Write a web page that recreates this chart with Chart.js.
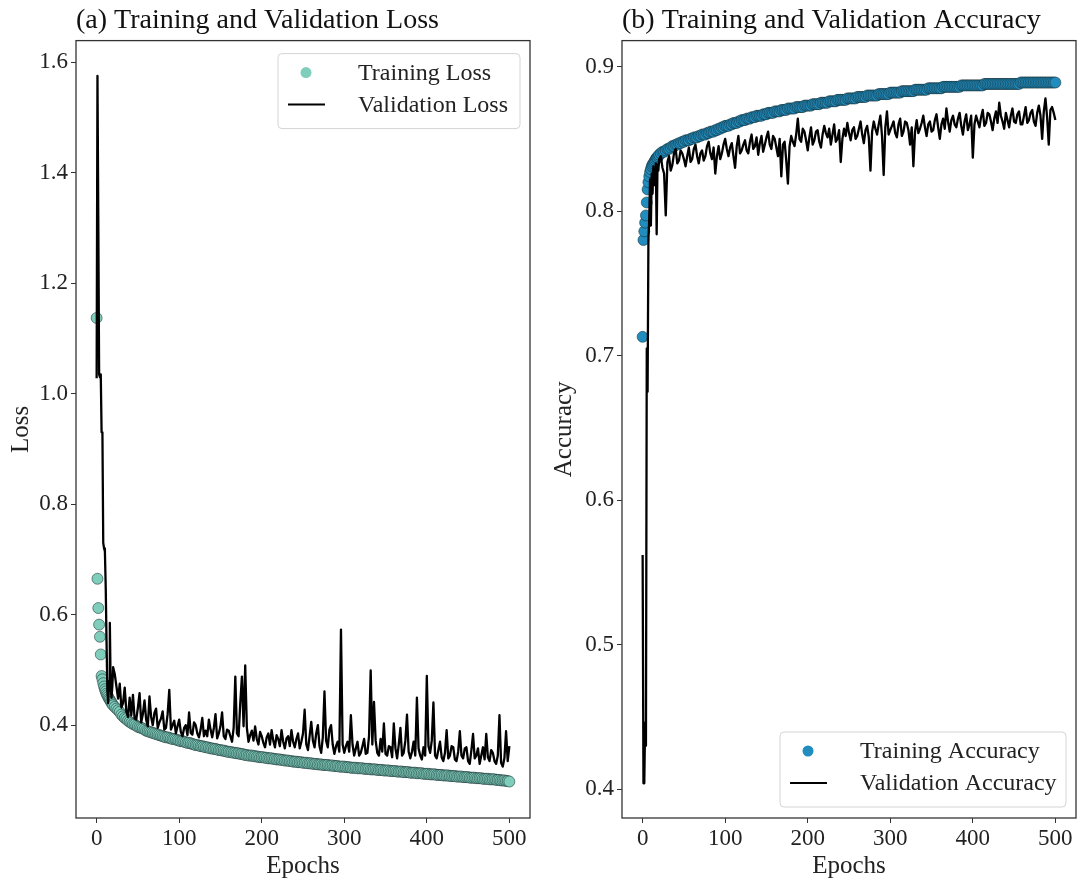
<!DOCTYPE html>
<html>
<head>
<meta charset="utf-8">
<script src="https://cdn.jsdelivr.net/npm/chart.js@4.4.0/dist/chart.umd.min.js"></script>
<style>
  html, body { margin:0; padding:0; background:#fff; }
  #wrap { position:relative; width:1086px; height:882px; }
  .pannello { position:absolute; top:0; width:543px; height:882px; }
</style>
</head>
<body>
<div id="wrap">
  <div class="pannello" style="left:0"><canvas id="grafico_loss" width="543" height="882"></canvas></div>
  <div class="pannello" style="left:543px"><canvas id="grafico_acc" width="543" height="882"></canvas></div>
</div>
<script>
// epoche (ogni epoca fino a 20, poi ogni 2)
var epoche = [0,1,2,3,4,5,6,7,8,9,10,11,12,13,14,15,16,17,18,19,20,
  22,24,26,28,30,32,34,36,38,40,
  42,44,46,48,50,52,54,56,58,60,
  62,64,66,68,70,72,74,76,78,80,
  82,84,86,88,90,92,94,96,98,100,
  102,104,106,108,110,112,114,116,118,120,
  122,124,126,128,130,132,134,136,138,140,
  142,144,146,148,150,152,154,156,158,160,
  162,164,166,168,170,172,174,176,178,180,
  182,184,186,188,190,192,194,196,198,200,
  202,204,206,208,210,212,214,216,218,220,
  222,224,226,228,230,232,234,236,238,240,
  242,244,246,248,250,252,254,256,258,260,
  262,264,266,268,270,272,274,276,278,280,
  282,284,286,288,290,292,294,296,298,300,
  302,304,306,308,310,312,314,316,318,320,
  322,324,326,328,330,332,334,336,338,340,
  342,344,346,348,350,352,354,356,358,360,
  362,364,366,368,370,372,374,376,378,380,
  382,384,386,388,390,392,394,396,398,400,
  402,404,406,408,410,412,414,416,418,420,
  422,424,426,428,430,432,434,436,438,440,
  442,444,446,448,450,452,454,456,458,460,
  462,464,466,468,470,472,474,476,478,480,
  482,484,486,488,490,492,494,496,498,500];

var training_loss = [1.137,0.665,0.612,0.582,0.560,0.528,0.489,0.483,0.476,0.470,0.465,0.461,0.457,0.454,0.451,0.448,0.446,0.443,0.441,0.438,0.436,
  0.433,0.430,0.427,0.424,0.419,0.416,0.413,0.411,0.408,0.406,
  0.404,0.402,0.401,0.399,0.397,0.396,0.395,0.394,0.392,0.390,
  0.389,0.388,0.387,0.386,0.385,0.384,0.383,0.382,0.381,0.380,
  0.379,0.378,0.378,0.377,0.376,0.375,0.375,0.374,0.373,0.372,
  0.371,0.371,0.370,0.369,0.368,0.368,0.367,0.366,0.365,0.364,
  0.364,0.363,0.362,0.362,0.361,0.360,0.360,0.359,0.358,0.358,
  0.357,0.357,0.356,0.355,0.355,0.354,0.354,0.353,0.352,0.352,
  0.351,0.351,0.350,0.350,0.349,0.349,0.348,0.348,0.347,0.346,
  0.346,0.345,0.345,0.345,0.344,0.344,0.343,0.343,0.342,0.342,
  0.342,0.341,0.341,0.340,0.340,0.340,0.339,0.339,0.338,0.338,
  0.338,0.337,0.337,0.336,0.336,0.336,0.335,0.335,0.334,0.334,
  0.334,0.333,0.333,0.333,0.332,0.332,0.332,0.331,0.331,0.331,
  0.330,0.330,0.330,0.329,0.329,0.329,0.328,0.328,0.328,0.328,
  0.327,0.327,0.327,0.326,0.326,0.326,0.325,0.325,0.325,0.325,
  0.324,0.324,0.324,0.323,0.323,0.323,0.323,0.322,0.322,0.322,
  0.322,0.321,0.321,0.321,0.321,0.320,0.320,0.320,0.320,0.319,
  0.319,0.319,0.319,0.318,0.318,0.318,0.318,0.317,0.317,0.317,
  0.317,0.316,0.316,0.316,0.316,0.315,0.315,0.315,0.315,0.314,
  0.314,0.314,0.314,0.313,0.313,0.313,0.313,0.312,0.312,0.312,
  0.312,0.311,0.311,0.311,0.311,0.310,0.310,0.310,0.310,0.309,
  0.309,0.309,0.309,0.308,0.308,0.308,0.308,0.307,0.307,0.307,
  0.307,0.306,0.306,0.306,0.306,0.305,0.305,0.305,0.305,0.304,
  0.304,0.304,0.304,0.303,0.303,0.303,0.303,0.302,0.302,0.302,
  0.302,0.301,0.301,0.301,0.300,0.300,0.300,0.299,0.299,0.298];

var validation_loss = [1.028,1.575,1.320,1.035,1.030,1.035,0.930,0.930,0.730,0.720,0.715,0.650,0.550,0.462,0.440,0.480,0.585,0.470,0.450,0.470,0.505,
  0.492,0.470,0.448,0.475,0.432,0.440,0.468,0.425,0.415,0.450,
  0.418,0.455,0.412,0.410,0.432,0.458,0.405,0.420,0.445,0.410,
  0.398,0.452,0.415,0.400,0.422,0.430,0.395,0.405,0.412,0.425,
  0.392,0.395,0.420,0.464,0.392,0.400,0.408,0.385,0.398,0.410,
  0.388,0.380,0.395,0.400,0.382,0.423,0.386,0.383,0.405,0.400,
  0.385,0.378,0.392,0.413,0.380,0.390,0.380,0.410,0.392,0.378,
  0.395,0.420,0.376,0.385,0.398,0.423,0.380,0.375,0.392,0.390,
  0.380,0.370,0.395,0.488,0.385,0.380,0.440,0.488,0.398,0.508,
  0.395,0.370,0.382,0.390,0.372,0.398,0.375,0.365,0.388,0.380,
  0.368,0.360,0.378,0.385,0.365,0.391,0.372,0.360,0.382,0.375,
  0.362,0.391,0.370,0.358,0.376,0.380,0.362,0.391,0.370,0.360,
  0.375,0.385,0.358,0.370,0.385,0.428,0.365,0.355,0.380,0.406,
  0.372,0.360,0.385,0.400,0.362,0.350,0.378,0.461,0.372,0.360,
  0.392,0.400,0.365,0.348,0.362,0.370,0.352,0.573,0.365,0.350,
  0.362,0.370,0.352,0.418,0.365,0.345,0.358,0.370,0.345,0.350,
  0.362,0.375,0.348,0.350,0.380,0.499,0.365,0.442,0.372,0.350,
  0.345,0.375,0.352,0.403,0.348,0.345,0.362,0.360,0.342,0.403,
  0.358,0.340,0.365,0.395,0.345,0.350,0.372,0.419,0.352,0.340,
  0.352,0.370,0.345,0.450,0.358,0.345,0.338,0.360,0.345,0.489,
  0.362,0.350,0.372,0.441,0.345,0.340,0.355,0.370,0.342,0.335,
  0.350,0.391,0.340,0.345,0.362,0.360,0.338,0.335,0.352,0.389,
  0.345,0.340,0.358,0.360,0.335,0.330,0.355,0.384,0.340,0.345,
  0.358,0.330,0.345,0.360,0.338,0.384,0.342,0.335,0.355,0.350,
  0.335,0.330,0.345,0.418,0.332,0.325,0.340,0.389,0.335,0.362];

var training_acc = [0.713,0.780,0.786,0.792,0.797,0.806,0.815,0.820,0.824,0.827,0.829,0.831,0.832,0.833,0.834,0.835,0.836,0.837,0.837,0.838,0.839,
  0.840,0.841,0.841,0.842,0.843,0.843,0.844,0.845,0.845,0.846,
  0.846,0.847,0.847,0.848,0.848,0.849,0.849,0.849,0.850,0.850,
  0.851,0.851,0.851,0.852,0.852,0.853,0.853,0.853,0.854,0.854,
  0.855,0.855,0.855,0.856,0.856,0.857,0.857,0.858,0.858,0.859,
  0.859,0.859,0.860,0.860,0.861,0.861,0.861,0.862,0.862,0.863,
  0.863,0.863,0.864,0.864,0.864,0.865,0.865,0.865,0.866,0.866,
  0.866,0.866,0.867,0.867,0.867,0.868,0.868,0.868,0.868,0.869,
  0.869,0.869,0.869,0.870,0.870,0.870,0.870,0.871,0.871,0.871,
  0.871,0.871,0.872,0.872,0.872,0.872,0.872,0.873,0.873,0.873,
  0.873,0.873,0.874,0.874,0.874,0.874,0.874,0.875,0.875,0.875,
  0.875,0.875,0.876,0.876,0.876,0.876,0.876,0.877,0.877,0.877,
  0.877,0.877,0.877,0.878,0.878,0.878,0.878,0.878,0.878,0.879,
  0.879,0.879,0.879,0.879,0.879,0.880,0.880,0.880,0.880,0.880,
  0.880,0.880,0.881,0.881,0.881,0.881,0.881,0.881,0.881,0.882,
  0.882,0.882,0.882,0.882,0.882,0.882,0.883,0.883,0.883,0.883,
  0.883,0.883,0.883,0.883,0.884,0.884,0.884,0.884,0.884,0.884,
  0.884,0.884,0.885,0.885,0.885,0.885,0.885,0.885,0.885,0.885,
  0.885,0.886,0.886,0.886,0.886,0.886,0.886,0.886,0.886,0.886,
  0.886,0.886,0.887,0.887,0.887,0.887,0.887,0.887,0.887,0.887,
  0.887,0.887,0.887,0.887,0.887,0.887,0.888,0.888,0.888,0.888,
  0.888,0.888,0.888,0.888,0.888,0.888,0.888,0.888,0.888,0.888,
  0.888,0.888,0.888,0.888,0.888,0.888,0.888,0.888,0.889,0.889,
  0.889,0.889,0.889,0.889,0.889,0.889,0.889,0.889,0.889,0.889,
  0.889,0.889,0.889,0.889,0.889,0.889,0.889,0.889,0.889,0.889];

var validation_acc = [0.562,0.404,0.404,0.446,0.430,0.705,0.675,0.780,0.795,0.822,0.790,0.826,0.812,0.831,0.818,0.829,0.833,0.784,0.832,0.828,0.836,
  0.838,0.830,0.826,0.797,0.834,0.838,0.828,0.832,0.840,0.843,
  0.833,0.835,0.842,0.840,0.836,0.831,0.838,0.844,0.834,0.836,
  0.843,0.846,0.838,0.833,0.840,0.842,0.835,0.838,0.845,0.848,
  0.840,0.836,0.844,0.826,0.838,0.845,0.836,0.840,0.846,0.850,
  0.843,0.838,0.844,0.847,0.838,0.830,0.845,0.852,0.840,0.842,
  0.846,0.849,0.842,0.840,0.848,0.853,0.843,0.845,0.851,0.839,
  0.847,0.852,0.841,0.846,0.851,0.855,0.846,0.843,0.852,0.850,
  0.844,0.838,0.850,0.824,0.846,0.848,0.835,0.819,0.845,0.852,
  0.848,0.845,0.853,0.864,0.850,0.848,0.857,0.855,0.849,0.842,
  0.851,0.858,0.846,0.849,0.855,0.856,0.848,0.844,0.853,0.859,
  0.854,0.851,0.857,0.846,0.853,0.860,0.848,0.850,0.856,0.834,
  0.850,0.857,0.852,0.861,0.854,0.849,0.856,0.858,0.850,0.852,
  0.857,0.862,0.853,0.847,0.856,0.859,0.851,0.828,0.855,0.862,
  0.857,0.853,0.860,0.866,0.852,0.825,0.858,0.869,0.853,0.856,
  0.859,0.862,0.854,0.851,0.860,0.864,0.852,0.855,0.862,0.861,
  0.856,0.846,0.858,0.831,0.855,0.863,0.854,0.857,0.861,0.866,
  0.858,0.852,0.860,0.862,0.855,0.856,0.863,0.867,0.858,0.850,
  0.860,0.864,0.857,0.871,0.862,0.855,0.863,0.866,0.860,0.858,
  0.864,0.868,0.859,0.853,0.862,0.867,0.856,0.860,0.866,0.837,
  0.860,0.866,0.862,0.858,0.865,0.870,0.859,0.861,0.868,0.867,
  0.862,0.856,0.864,0.869,0.861,0.875,0.866,0.862,0.857,0.868,
  0.863,0.858,0.866,0.871,0.862,0.861,0.867,0.869,0.860,0.860,
  0.866,0.872,0.861,0.863,0.868,0.870,0.862,0.859,0.868,0.873,
  0.866,0.850,0.869,0.878,0.865,0.846,0.870,0.872,0.868,0.863];

// etichette degli assi
var tick_epoche = [0,100,200,300,400,500];
var tick_loss = [0.4,0.6,0.8,1.0,1.2,1.4,1.6];
var tick_acc = [0.4,0.5,0.6,0.7,0.8,0.9];

var FONT = '"Liberation Serif", "Times New Roman", serif';

function coppie(xs, ys){
  var out = [];
  for (var i = 0; i < xs.length; i++) {
    out.push({x: xs[i], y: ys[i]});
  }
  return out;
}

// cornice attorno all'area del grafico
var cornice = {
  id: 'cornice',
  afterDatasetsDraw: function(chart){
    var a = chart.chartArea, ctx = chart.ctx;
    ctx.save();
    ctx.strokeStyle = '#333';
    ctx.lineWidth = 1.3;
    ctx.strokeRect(a.left, a.top, a.right - a.left, a.bottom - a.top);
    ctx.restore();
  }
};

// legenda dentro l'area del grafico
var legenda = {
  id: 'legenda',
  afterDraw: function(chart, args, opts){
    var a = chart.chartArea, ctx = chart.ctx;
    var w = opts.larghezza, h = 75;
    var left = a.right - 10 - w;
    var top = opts.inAlto ? a.top + 13 : a.bottom - 11 - h;
    ctx.save();
    ctx.beginPath();
    if (ctx.roundRect) { ctx.roundRect(left, top, w, h, 4); } else { ctx.rect(left, top, w, h); }
    ctx.fillStyle = 'rgba(255,255,255,0.85)';
    ctx.fill();
    ctx.strokeStyle = '#d4d4d4';
    ctx.lineWidth = 1;
    ctx.stroke();
    ctx.beginPath();
    ctx.arc(left + 28, top + 19, 5.5, 0, Math.PI * 2);
    ctx.fillStyle = opts.colore;
    ctx.fill();
    ctx.beginPath();
    ctx.moveTo(left + 10, top + 51);
    ctx.lineTo(left + 47, top + 51);
    ctx.strokeStyle = '#000';
    ctx.lineWidth = 2;
    ctx.stroke();
    ctx.font = '24px ' + FONT;
    ctx.fillStyle = '#222';
    ctx.textBaseline = 'middle';
    ctx.fillText(opts.etichette[0], left + 80, top + 20);
    ctx.fillText(opts.etichette[1], left + 80, top + 52);
    ctx.restore();
  }
};

function disegna_grafico(id, cfg){
  return new Chart(document.getElementById(id), {
    type: 'scatter',
    data: {
      datasets: [{
        label: cfg.etichette[1],
        data: coppie(epoche, cfg.validazione),
        showLine: true,
        borderColor: '#000',
        borderWidth: 2.3,
        borderJoinStyle: 'round',
        pointRadius: 0,
        tension: 0
      }, {
        label: cfg.etichette[0],
        data: coppie(epoche, cfg.training),
        showLine: false,
        backgroundColor: cfg.colore,
        borderColor: 'rgba(20,40,45,0.75)',
        borderWidth: 0.7,
        pointRadius: 5.5
      }]
    },
    options: {
      responsive: false,
      animation: false,
      events: [],
      layout: { padding: { left: 0, right: cfg.destra, top: 0, bottom: 0 } },
      plugins: {
        legend: { display: false },
        tooltip: { enabled: false },
        title: {
          display: true,
          text: cfg.titolo,
          align: 'start',
          fullSize: false,
          color: '#111',
          font: { family: FONT, size: 28, weight: 'normal', lineHeight: 1.2 },
          padding: { top: 4, bottom: 3 }
        },
        legenda: { larghezza: cfg.larghezza, inAlto: cfg.inAlto, colore: cfg.colore, etichette: cfg.etichette }
      },
      scales: {
        x: {
          type: 'linear',
          min: -25,
          max: 525,
          afterBuildTicks: function(s){ s.ticks = tick_epoche.map(function(v){ return {value: v}; }); },
          afterFit: function(s){ s.height = 64; },
          grid: { drawOnChartArea: false, drawTicks: true, tickLength: 5, tickColor: '#333', tickWidth: 1 },
          border: { display: false },
          ticks: { font: { family: FONT, size: 23 }, color: '#222', padding: 2, maxRotation: 0, autoSkip: false },
          title: { display: true, text: 'Epochs', color: '#222', font: { family: FONT, size: 25 }, padding: { top: 0, bottom: 1 } }
        },
        y: {
          type: 'linear',
          min: cfg.ymin,
          max: cfg.ymax,
          afterBuildTicks: function(s){ s.ticks = cfg.ticks.map(function(v){ return {value: v}; }); },
          afterFit: function(s){ s.width = cfg.sinistra; },
          grid: { drawOnChartArea: false, drawTicks: true, tickLength: 5, tickColor: '#333', tickWidth: 1 },
          border: { display: false },
          ticks: {
            font: { family: FONT, size: 23 }, color: '#222', padding: 3, autoSkip: false,
            callback: function(v){ return Number(v).toFixed(1); }
          },
          title: { display: true, text: cfg.asse_y, color: '#222', font: { family: FONT, size: 25 }, padding: { top: 6, bottom: 0 } }
        }
      }
    },
    plugins: [cornice, legenda]
  });
}

disegna_grafico('grafico_loss', {
  titolo: '(a) Training and Validation Loss',
  asse_y: 'Loss',
  training: training_loss,
  validazione: validation_loss,
  colore: '#7fcdbb',
  etichette: ['Training Loss', 'Validation Loss'],
  ticks: tick_loss,
  ymin: 0.232,
  ymax: 1.639,
  sinistra: 76,
  destra: 13,
  larghezza: 242,
  inAlto: true
});

disegna_grafico('grafico_acc', {
  titolo: '(b) Training and Validation Accuracy',
  asse_y: 'Accuracy',
  training: training_acc,
  validazione: validation_acc,
  colore: '#218cbe',
  etichette: ['Training Accuracy', 'Validation Accuracy'],
  ticks: tick_acc,
  ymin: 0.380,
  ymax: 0.918,
  sinistra: 79,
  destra: 10,
  larghezza: 286,
  inAlto: false
});
</script>
</body>
</html>
